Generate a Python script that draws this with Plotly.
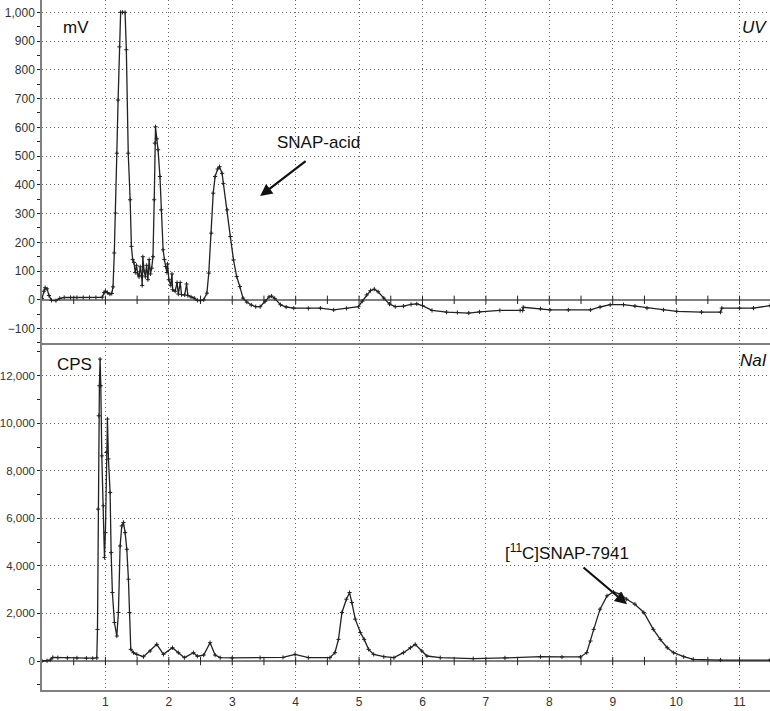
import plotly.graph_objects as go
from plotly.subplots import make_subplots

# UV trace (mV)
uv_time = [0.00, 0.03, 0.05, 0.08, 0.11, 0.15, 0.22, 0.28, 0.35, 0.45, 0.55, 0.65, 0.75, 0.85,
           0.95, 0.98, 1.00, 1.03, 1.07, 1.10, 1.12, 1.14, 1.16, 1.18, 1.20, 1.22, 1.24, 1.27,
           1.31, 1.33, 1.36, 1.39, 1.41, 1.43, 1.45, 1.47, 1.49, 1.51, 1.53, 1.55, 1.57, 1.58,
           1.59, 1.61, 1.63, 1.65, 1.67, 1.69, 1.71, 1.73, 1.75, 1.77, 1.78, 1.79, 1.81, 1.83,
           1.86, 1.88, 1.91, 1.93, 1.95, 1.97, 1.98, 2.00, 2.03, 2.05, 2.06, 2.10, 2.13, 2.15,
           2.18, 2.20, 2.25, 2.28, 2.30, 2.35, 2.40, 2.45, 2.50, 2.55, 2.60, 2.63, 2.67, 2.70,
           2.73, 2.77, 2.80, 2.84, 2.86, 2.92, 2.97, 3.02, 3.07, 3.12, 3.17, 3.23, 3.30, 3.37,
           3.44, 3.52, 3.58, 3.62, 3.67, 3.76, 3.85, 3.97, 4.20, 4.39, 4.60, 4.80, 4.99, 5.05,
           5.12, 5.18, 5.24, 5.30, 5.39, 5.48, 5.57, 5.70, 5.82, 5.91, 6.00, 6.15, 6.38, 6.55,
           6.73, 6.90, 7.22, 7.54, 7.58, 7.59, 7.86, 8.01, 8.30, 8.65, 8.80, 8.96, 9.17, 9.35,
           9.54, 9.80, 10.01, 10.40, 10.70, 10.72, 11.00, 11.22, 11.48]
uv_mv = [5, 30, 42, 38, 15, -2, -3, 5, 8, 8, 8, 8, 8, 8,
         9, 25, 30, 25, 20, 22, 45, 163, 302, 510, 695, 880, 1000, 1000,
         1000, 870, 510, 348, 186, 140, 130, 95, 120, 90, 80, 115, 85, 50,
         150, 100, 80, 120, 70, 140, 90, 110, 150, 348, 545, 602, 560, 522,
         429, 313, 174, 140, 116, 95, 125, 70, 50, 90, 35, 30, 60, 20,
         60, 18, 17, 55, 15, 10, 6, -2, -3, 0, 23, 93, 232, 371,
         429, 455, 463, 440, 405, 313, 220, 139, 81, 46, 6, -8, -18, -24,
         -24, -5, 10, 13, 5, -17, -25, -29, -30, -29, -35, -30, -24, -5,
         17, 32, 37, 28, 6, -15, -24, -22, -16, -14, -20, -37, -43, -44,
         -46, -42, -37, -37, -37, -26, -31, -35, -35, -35, -25, -17, -17, -22,
         -29, -35, -40, -43, -43, -29, -29, -29, -20]

# NaI radio trace (CPS)
nai_time = [0.00, 0.08, 0.13, 0.17, 0.25, 0.40, 0.55, 0.70, 0.80, 0.864, 0.875, 0.885, 0.895,
            0.905, 0.916, 0.927, 0.943, 0.969, 0.985, 1.000, 1.016, 1.032, 1.048, 1.074, 1.090,
            1.110, 1.142, 1.180, 1.205, 1.232, 1.258, 1.284, 1.311, 1.337, 1.363, 1.379, 1.400,
            1.442, 1.495, 1.600, 1.705, 1.810, 1.915, 2.057, 2.150, 2.246, 2.388, 2.450, 2.550,
            2.650, 2.730, 2.810, 3.000, 3.440, 3.800, 3.990, 4.200, 4.540, 4.620, 4.675, 4.730,
            4.800, 4.850, 4.886, 4.940, 5.020, 5.080, 5.150, 5.230, 5.390, 5.550, 5.700, 5.810,
            5.885, 5.990, 6.070, 6.280, 6.800, 7.300, 7.860, 8.200, 8.490, 8.590, 8.650, 8.700,
            8.800, 8.910, 9.010, 9.120, 9.220, 9.350, 9.490, 9.640, 9.750, 9.860, 9.960, 10.120,
            10.270, 10.700, 11.480]
nai_cps = [0, 10, 40, 150, 140, 130, 130, 120, 110, 130, 1330, 6390, 10316,
           11580, 12700, 11580, 8630, 6530, 4350, 5400, 8770, 10180, 8500, 7090, 4560,
           2880, 1620, 1050, 2040, 4840, 5680, 5830, 5400, 4700, 3440, 2040, 490,
           350, 280, 180, 420, 700, 280, 560, 350, 140, 350, 200, 250,
           770, 250, 140, 130, 140, 150, 280, 140, 140, 350, 910, 2040,
           2600, 2880, 2460, 1760, 1200, 910, 490, 280, 180, 140, 350, 560,
           700, 420, 210, 140, 100, 130, 180, 170, 170, 350, 840, 1330,
           2180, 2740, 2900, 2810, 2600, 2390, 2040, 1330, 910, 560, 350, 180,
           70, 40, 40]

x_ticks = list(range(1, 12))
zero_ticks = [i * 0.5 for i in range(1, 23)]

INK = "#222222"
AXIS = "#808080"
GRID = "#666666"
FONT = "Liberation Sans, Arial, sans-serif"

fig = make_subplots(rows=2, cols=1, shared_xaxes=True, vertical_spacing=0.0,
                    row_heights=[0.497, 0.503])

for row in (1, 2):
    fig.add_trace(go.Scatter(x=zero_ticks, y=[0] * len(zero_ticks), mode="markers",
                             marker=dict(symbol="line-ns", size=6,
                                         line=dict(color=INK, width=1)),
                             hoverinfo="skip", showlegend=False), row=row, col=1)

fig.add_trace(go.Scatter(x=uv_time, y=uv_mv, mode="lines+markers",
                         line=dict(color=INK, width=1.3),
                         marker=dict(symbol="cross-thin", size=3,
                                     line=dict(color=INK, width=1)),
                         showlegend=False), row=1, col=1)
fig.add_trace(go.Scatter(x=nai_time, y=nai_cps, mode="lines+markers",
                         line=dict(color=INK, width=1.3),
                         marker=dict(symbol="cross-thin", size=3,
                                     line=dict(color=INK, width=1)),
                         showlegend=False), row=2, col=1)

xcommon = dict(range=[0, 11.48], dtick=1, tick0=0, showgrid=True, gridcolor=GRID,
               griddash="1px,3px", gridwidth=1, showline=True, linecolor=AXIS,
               linewidth=1.5, zeroline=False, automargin=False)
fig.update_xaxes(**xcommon, showticklabels=False, ticks="", row=1, col=1)
fig.update_xaxes(**xcommon, tickvals=x_ticks, ticks="",
                 tickfont=dict(size=12, color="#333333"), row=2, col=1)

ycommon = dict(showgrid=True, gridcolor=GRID, griddash="1px,3px", gridwidth=1,
               showline=True, linecolor=AXIS, linewidth=1.5, ticks="outside",
               ticklen=3, tickcolor=INK, zeroline=True, zerolinecolor=AXIS,
               zerolinewidth=1.5, tickformat=",d", automargin=False)
fig.update_yaxes(**ycommon, range=[-150, 1043], dtick=100,
                 tickfont=dict(size=12, color="#333333"),
                 minor=dict(dtick=50, ticks="outside", ticklen=3, tickcolor=INK),
                 row=1, col=1)
fig.update_yaxes(**ycommon, range=[-1220, 13380], dtick=2000,
                 tickfont=dict(size=11.5, color="#333333"),
                 minor=dict(dtick=1000, ticks="outside", ticklen=3, tickcolor=INK),
                 row=2, col=1)

labels = [
    dict(x=0.54, y=949, xref="x", yref="y", text="mV"),
    dict(x=11.46, y=949, xref="x", yref="y", text="<i>UV</i>", xanchor="right"),
    dict(x=0.51, y=12490, xref="x2", yref="y2", text="CPS"),
    dict(x=11.46, y=12660, xref="x2", yref="y2", text="<i>NaI</i>", xanchor="right"),
    dict(x=4.355, y=546, xref="x", yref="y", text="SNAP-acid"),
    dict(x=8.28, y=4577, xref="x2", yref="y2", text="[<sup>11</sup>C]SNAP-7941"),
]
for lab in labels:
    fig.add_annotation(showarrow=False, font=dict(size=17), **lab)

fig.add_annotation(x=3.44, y=361, xref="x", yref="y", ax=47, ay=-36, text="",
                   showarrow=True, arrowhead=2, arrowsize=1.1, arrowwidth=2.2,
                   arrowcolor="#111111")
fig.add_annotation(x=9.225, y=2387, xref="x2", yref="y2", ax=-45, ay=-38, text="",
                   showarrow=True, arrowhead=2, arrowsize=1.1, arrowwidth=2.2,
                   arrowcolor="#111111")

fig.update_layout(width=770, height=711, margin=dict(l=42, r=0, t=0, b=21),
                  plot_bgcolor="white", paper_bgcolor="white",
                  font=dict(family=FONT, color="#111111"))

# drop the browser's default 8px body margin so the figure sits at the page corner
fig.write_html("out.html", config={"displayModeBar": False},
               post_script="document.body.style.margin='0px';")
